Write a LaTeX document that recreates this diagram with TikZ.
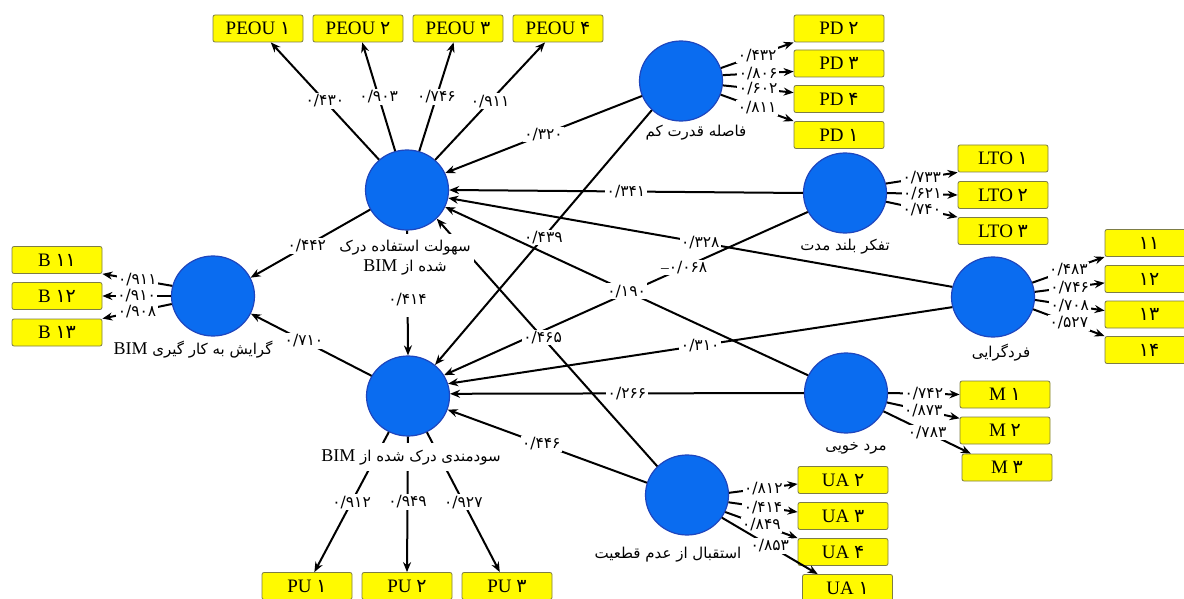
\documentclass[tikz,border=0pt]{standalone}
\usepackage{fontspec}
\setmainfont{Liberation Serif}
\newfontfamily\fa[Script=Arabic]{DejaVu Sans}
\TeXXeTstate=1
\usetikzlibrary{arrows.meta,shapes.geometric}
\definecolor{circf}{RGB}{10,108,240}
\definecolor{circb}{RGB}{30,70,190}
\definecolor{boxf}{RGB}{255,250,0}
\definecolor{boxb}{RGB}{125,125,70}
\newcommand{\fd}[1]{{\fa #1}}
\newcommand{\rtl}[1]{\beginR{\fa #1}\endR}
\newcommand{\bimL}{\beginL{\rmfamily\fontsize{18}{20}\selectfont BIM}\endL}
\begin{document}
\begin{tikzpicture}[x=1pt,y=-1pt,
  lat/.style={ellipse, draw=circb, fill=circf, line width=1.2pt, minimum width=83pt, minimum height=80pt, inner sep=0pt},
  ibox/.style={draw=boxb, fill=boxf, rounded corners=2pt, minimum width=90pt, minimum height=27pt, inner sep=0pt, line width=0.8pt, font=\rmfamily\fontsize{19}{21}\selectfont},
  arr/.style={-{Stealth[length=10pt,width=8pt]}, line width=2pt},
  lbl/.style={fill=white, inner sep=1.5pt, font=\fa\fontsize{15.5}{17}\selectfont},
  ltxt/.style={fill=white, inner xsep=3pt, inner ysep=2pt, align=center, font=\fa\fontsize{15}{20}\selectfont}]
\clip (0,0) rectangle (1184,599);
\fill[white] (0,0) rectangle (1184,599);

% latent variables
\node[lat] (peou) at (407,190) {};
\node[lat] (pu) at (408,396) {};
\node[lat] (b) at (213,296) {};
\node[lat] (pd) at (681,81) {};
\node[lat] (lto) at (845,193) {};
\node[lat] (ind) at (993,297) {};
\node[lat] (m) at (846,393) {};
\node[lat] (ua) at (687,495) {};

% indicators
\node[ibox] (peou1) at (258,28.5) {PEOU \fd{۱}};
\node[ibox] (peou2) at (358,28.5) {PEOU \fd{۲}};
\node[ibox] (peou3) at (458,28.5) {PEOU \fd{۳}};
\node[ibox] (peou4) at (558,28.5) {PEOU \fd{۴}};
\node[ibox] (pd2) at (839,28.5) {PD \fd{۲}};
\node[ibox] (pd3) at (839,63.5) {PD \fd{۳}};
\node[ibox] (pd4) at (839,99) {PD \fd{۴}};
\node[ibox] (pd1) at (839,135) {PD \fd{۱}};
\node[ibox] (lto1) at (1003,158.5) {LTO \fd{۱}};
\node[ibox] (lto2) at (1003,195) {LTO \fd{۲}};
\node[ibox] (lto3) at (1003,231) {LTO \fd{۳}};
\node[ibox,minimum width=88pt] (i11) at (1149,243) {\fd{۱۱}};
\node[ibox,minimum width=88pt] (i12) at (1149,279) {\fd{۱۲}};
\node[ibox,minimum width=88pt] (i13) at (1149,314.5) {\fd{۱۳}};
\node[ibox,minimum width=88pt] (i14) at (1149,350) {\fd{۱۴}};
\node[ibox] (m1) at (1005,394.5) {M \fd{۱}};
\node[ibox] (m2) at (1005,430.5) {M \fd{۲}};
\node[ibox] (m3) at (1007,467.5) {M \fd{۳}};
\node[ibox] (ua2) at (843,480) {UA \fd{۲}};
\node[ibox] (ua3) at (843,516) {UA \fd{۳}};
\node[ibox] (ua4) at (843,552) {UA \fd{۴}};
\node[ibox] (ua1) at (847.5,588) {UA \fd{۱}};
\node[ibox] (b11) at (57,260) {B \fd{۱۱}};
\node[ibox] (b12) at (57,296) {B \fd{۱۲}};
\node[ibox] (b13) at (57,332.5) {B \fd{۱۳}};
\node[ibox] (pu1) at (307,586) {PU \fd{۱}};
\node[ibox] (pu2) at (407,586) {PU \fd{۲}};
\node[ibox] (pu3) at (507,586) {PU \fd{۳}};

% structural paths
\draw[arr] (pd.201) -- node[lbl]{\fd{۰/۳۲۰}} (peou.24);
\draw[arr] (pd.225) -- node[lbl]{\fd{۰/۴۳۹}} (pu.49);
\draw[arr] (lto.180) -- node[lbl]{\fd{۰/۳۴۱}} (peou.0);
\draw[arr] (lto.207) -- node[lbl,pos=0.34]{{\rmfamily\fontsize{15.5}{17}\selectfont\textendash}\fd{۰/۰۶۸}} (pu.30);
\draw[arr] (ind.166) -- node[lbl]{\fd{۰/۳۲۸}} (peou.-11);
\draw[arr] (ind.194) -- node[lbl]{\fd{۰/۳۱۰}} (pu.17);
\draw[arr] (m.155) -- node[lbl]{\fd{۰/۱۹۰}} (peou.-24);
\draw[arr] (m.180) -- node[lbl]{\fd{۰/۲۶۶}} (pu.3);
\draw[arr] (ua.136) -- node[lbl,pos=0.52]{\fd{۰/۴۶۵}} (peou.-44);
\draw[arr] (ua.163) -- node[lbl,pos=0.53]{\fd{۰/۴۴۶}} (pu.-19);
\draw[arr] (peou.208) -- node[lbl,pos=0.53]{\fd{۰/۴۴۲}} (b.26);
\draw[arr] (pu.151) -- node[lbl,pos=0.56]{\fd{۰/۷۱۰}} (b.-25);
\draw[arr] (peou.south) -- node[lbl,pos=0.55,inner ysep=11pt]{\fd{۰/۴۱۴}} (pu.north);

% measurement paths
\draw[arr] (peou) -- node[lbl]{\fd{۰/۴۳۰}} (peou1);
\draw[arr] (peou) -- node[lbl]{\fd{۰/۹۰۳}} (peou2);
\draw[arr] (peou) -- node[lbl]{\fd{۰/۷۴۶}} (peou3);
\draw[arr] (peou) -- node[lbl]{\fd{۰/۹۱۱}} (peou4);
\draw[arr] (pd.18) -- node[lbl]{\fd{۰/۴۳۲}} (pd2.south west);
\draw[arr] (pd.8) -- node[lbl]{\fd{۰/۸۰۶}} (pd3.190);
\draw[arr] (pd.-6) -- node[lbl]{\fd{۰/۶۰۲}} (pd4.172);
\draw[arr] (pd.-19) -- node[lbl]{\fd{۰/۸۱۱}} (pd1.north west);
\draw[arr] (lto.13) -- node[lbl]{\fd{۰/۷۳۳}} (lto1.south west);
\draw[arr] (lto.0) -- node[lbl]{\fd{۰/۶۲۱}} (lto2.west);
\draw[arr] (lto.-12) -- node[lbl]{\fd{۰/۷۴۰}} (lto3.north west);
\draw[arr] (ind.20) -- node[lbl]{\fd{۰/۴۸۳}} (i11.south west);
\draw[arr] (ind.7) -- node[lbl]{\fd{۰/۷۴۶}} (i12.185);
\draw[arr] (ind.-4) -- node[lbl]{\fd{۰/۷۰۸}} (i13.175);
\draw[arr] (ind.-17) -- node[lbl]{\fd{۰/۵۲۷}} (i14.north west);
\draw[arr] (m.0) -- node[lbl]{\fd{۰/۷۴۲}} (m1.west);
\draw[arr] (m.-13) -- node[lbl]{\fd{۰/۸۷۳}} (m2.165);
\draw[arr] (m.-26) -- node[lbl]{\fd{۰/۷۸۳}} (m3.159);
\draw[arr] (ua.3) -- node[lbl]{\fd{۰/۸۱۲}} (ua2.185);
\draw[arr] (ua.-10) -- node[lbl]{\fd{۰/۴۱۴}} (ua3.175);
\draw[arr] (ua.-24) -- node[lbl]{\fd{۰/۸۴۹}} (ua4.north west);
\draw[arr] (ua.-33) -- node[lbl]{\fd{۰/۸۵۳}} (ua1.155);
\draw[arr] (b.166) -- node[lbl]{\fd{۰/۹۱۱}} (b11.south east);
\draw[arr] (b.180) -- node[lbl]{\fd{۰/۹۱۰}} (b12.east);
\draw[arr] (b.191) -- node[lbl]{\fd{۰/۹۰۸}} (b13.north east);
\draw[arr] (pu) -- node[lbl]{\fd{۰/۹۱۲}} (pu1);
\draw[arr] (pu.south) -- node[lbl,pos=0.48]{\fd{۰/۹۴۹}} (pu2.north);
\draw[arr] (pu) -- node[lbl]{\fd{۰/۹۲۷}} (pu3);

% construct names
\node[ltxt,inner ysep=6pt] (peoul) at (405,258) {\rtl{سهولت استفاده درک}\\ \beginR{\fa شده از }\bimL\endR};
\node[ltxt,inner ysep=6pt] (pul) at (411,457) {\beginR{\fa سودمندی درک شده از }\bimL\endR};
\node[ltxt] (bl) at (193,350) {\beginR{\fa گرایش به کار گیری }\bimL\endR};
\node[ltxt] (pdl) at (696,133) {\rtl{فاصله قدرت کم}};
\node[ltxt] (ltol) at (845,247) {\rtl{تفکر بلند مدت}};
\node[ltxt] (indl) at (1001,353) {\rtl{فردگرایی}};
\node[ltxt] (ml) at (856,448) {\rtl{مرد خویی}};
\node[ltxt] (ual) at (668,555) {\rtl{استقبال از عدم قطعیت}};
\end{tikzpicture}
\end{document}
